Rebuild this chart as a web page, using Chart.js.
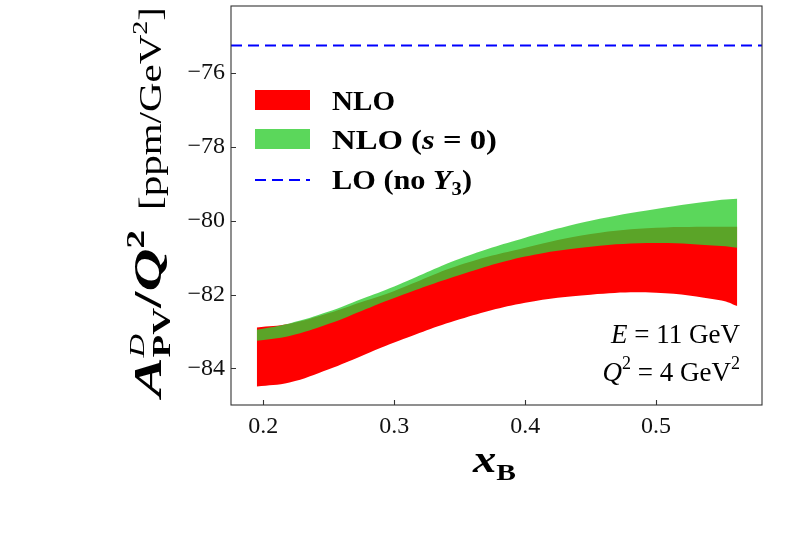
<!DOCTYPE html>
<html>
<head>
<meta charset="utf-8">
<script src="https://cdn.jsdelivr.net/npm/chart.js"></script>
<style>
  body { margin: 0; background: #fff; }
  canvas { display: block; }
</style>
</head>
<body>
<canvas id="chart" width="801" height="533"></canvas>
<script>
// x_B grid and band edges
const xB        = [0.195, 0.22, 0.25, 0.275, 0.30, 0.35, 0.40, 0.45, 0.50, 0.55, 0.562];
const nloTop    = [-82.89, -82.79, -82.50, -82.20, -81.90, -81.20, -80.73, -80.36, -80.19, -80.16, -80.16];
const nloBottom = [-84.49, -84.38, -84.02, -83.66, -83.30, -82.67, -82.22, -82.00, -81.95, -82.16, -82.31];
const s0Top     = [-82.95, -82.78, -82.46, -82.12, -81.78, -81.03, -80.46, -80.00, -79.68, -79.43, -79.40];
const s0Bottom  = [-83.25, -83.12, -82.79, -82.44, -82.09, -81.47, -80.97, -80.70, -80.60, -80.68, -80.73];

const xLimits = [0.1753, 0.5809];
const yLimits = [-84.99, -74.18];
const loX = xLimits;
const loY = [-75.25, -75.25];

const xTicks = [0.2, 0.3, 0.4, 0.5];
const yTicks = [-84, -82, -80, -78, -76];

const RED = 'rgb(255,0,0)';
const GREEN = 'rgba(50,205,50,0.8)';
const BLUE = 'rgb(0,0,255)';
const SERIF = '"Liberation Serif", "Times New Roman", serif';

const pts = (xs, ys) => xs.map((x, i) => ({ x: x, y: ys[i] }));

// draw a list of text runs; a run with `stack` starts where the previous one started
function runsWidth(ctx, runs) {
  let w = 0, last = 0;
  runs.forEach(r => {
    ctx.font = r.f;
    const rw = ctx.measureText(r.t).width + (r.gap || 0);
    if (r.stack) { w += Math.max(0, rw - last); last = Math.max(last, rw); }
    else { w += rw; last = rw; }
  });
  return w;
}

function drawRuns(ctx, runs, x, y, target) {
  const natural = runsWidth(ctx, runs);
  const sx = target ? target / natural : 1;
  ctx.save();
  ctx.translate(x, y);
  ctx.scale(sx, 1);
  let cx = 0, start = 0, last = 0;
  runs.forEach(r => {
    ctx.font = r.f;
    const rw = ctx.measureText(r.t).width + (r.gap || 0);
    if (r.stack) {
      ctx.fillText(r.t, start, r.dy || 0);
      cx = start + Math.max(last, rw);
      last = Math.max(last, rw);
    } else {
      start = cx;
      ctx.fillText(r.t, cx, r.dy || 0);
      cx += rw;
      last = rw;
    }
  });
  ctx.restore();
  return natural * sx;
}

const decorations = {
  id: 'decorations',
  afterDraw(chart) {
    const ctx = chart.ctx;
    const a = chart.chartArea;
    const xs = chart.scales.x, ys = chart.scales.y;
    ctx.save();

    // frame
    ctx.strokeStyle = '#333';
    ctx.lineWidth = 1.1;
    ctx.strokeRect(a.left, a.top, a.right - a.left, a.bottom - a.top);

    // inward ticks
    ctx.beginPath();
    xTicks.forEach(v => {
      const px = Math.round(xs.getPixelForValue(v)) + 0.5;
      ctx.moveTo(px, a.bottom); ctx.lineTo(px, a.bottom - 5);
    });
    yTicks.forEach(v => {
      const py = Math.round(ys.getPixelForValue(v)) + 0.5;
      ctx.moveTo(a.left, py); ctx.lineTo(a.left + 5, py);
    });
    ctx.stroke();

    ctx.fillStyle = '#000';
    ctx.textAlign = 'left';
    ctx.textBaseline = 'alphabetic';

    // y axis title, rotated
    ctx.save();
    ctx.translate(161, 0);
    ctx.rotate(-Math.PI / 2);
    drawRuns(ctx, [
      { t: 'A', f: 'bold italic 40px ' + SERIF },
      { t: 'D', f: 'italic 22px ' + SERIF, dy: -17 },
      { t: 'PV', f: 'bold 25px ' + SERIF, dy: 9, stack: true },
      { t: '/', f: 'bold 40px ' + SERIF },
      { t: 'Q', f: 'bold italic 40px ' + SERIF },
      { t: '2', f: 'bold 25px ' + SERIF, dy: -17 }
    ], -397, 0, 167);
    drawRuns(ctx, [
      { t: '[ppm/GeV', f: '32px ' + SERIF },
      { t: '2', f: '22px ' + SERIF, dy: -14 },
      { t: ']', f: '32px ' + SERIF }
    ], -210, 0, 203);
    ctx.restore();

    // x axis title
    drawRuns(ctx, [
      { t: 'x', f: 'bold italic 38px ' + SERIF },
      { t: 'B', f: 'bold 24px ' + SERIF, dy: 8 }
    ], 473, 472, 43);

    // legend
    const lx = 255, lw = 55;
    ctx.fillStyle = RED;
    ctx.fillRect(lx, 90, lw, 20);
    ctx.fillStyle = GREEN;
    ctx.fillRect(lx, 129, lw, 20);
    ctx.strokeStyle = BLUE;
    ctx.lineWidth = 2;
    ctx.setLineDash([11, 6]);
    ctx.beginPath();
    ctx.moveTo(lx, 180); ctx.lineTo(lx + lw, 180);
    ctx.stroke();
    ctx.setLineDash([]);

    ctx.fillStyle = '#000';
    const B = 'bold 28px ' + SERIF, BI = 'bold italic 28px ' + SERIF;
    drawRuns(ctx, [{ t: 'NLO', f: B }], 332, 110, 63);
    drawRuns(ctx, [
      { t: 'NLO (', f: B }, { t: 's', f: BI }, { t: ' = 0)', f: B }
    ], 332, 149, 165);
    drawRuns(ctx, [
      { t: 'LO (no ', f: B }, { t: 'Y', f: BI },
      { t: '3', f: 'bold 19px ' + SERIF, dy: 6 }, { t: ')', f: B }
    ], 332, 189, 140);

    // kinematics note
    const R = '27px ' + SERIF, I = 'italic 27px ' + SERIF, S = '18px ' + SERIF;
    const row1 = [{ t: 'E', f: I }, { t: ' = 11 GeV', f: R }];
    const row2 = [{ t: 'Q', f: I }, { t: '2', f: S, dy: -12 }, { t: ' = 4 GeV', f: R }, { t: '2', f: S, dy: -12 }];
    const right = 740;
    drawRuns(ctx, row1, right - runsWidth(ctx, row1), 343);
    drawRuns(ctx, row2, right - runsWidth(ctx, row2), 381);

    ctx.restore();
  }
};

const band = (label, ys, color, fill, order) => ({
  label: label,
  data: pts(xB, ys),
  showLine: true,
  borderColor: 'transparent',
  borderWidth: 0,
  backgroundColor: color,
  pointRadius: 0,
  tension: 0.4,
  fill: fill,
  order: order
});

new Chart(document.getElementById('chart'), {
  type: 'scatter',
  data: {
    datasets: [
      band('NLO upper', nloTop, RED, false, 2),
      band('NLO', nloBottom, RED, '-1', 2),
      band('NLO (s=0) upper', s0Top, GREEN, false, 1),
      band('NLO (s=0)', s0Bottom, GREEN, '-1', 1),
      {
        label: 'LO (no Y3)',
        data: pts(loX, loY),
        showLine: true,
        borderColor: BLUE,
        borderWidth: 2,
        borderDash: [11, 6],
        pointRadius: 0,
        fill: false,
        order: 0
      }
    ]
  },
  options: {
    responsive: false,
    animation: false,
    events: [],
    layout: { padding: { top: 6, right: 39, left: 0, bottom: 0 } },
    plugins: { legend: { display: false }, tooltip: { enabled: false } },
    scales: {
      x: {
        type: 'linear',
        min: xLimits[0],
        max: xLimits[1],
        grid: { display: false, drawTicks: false },
        border: { display: false },
        afterBuildTicks: s => { s.ticks = xTicks.map(v => ({ value: v })); },
        afterFit: s => { s.height = 128; s.paddingLeft = 0; s.paddingRight = 0; },
        ticks: {
          autoSkip: false,
          maxRotation: 0,
          padding: 7,
          color: '#111',
          font: { family: SERIF, size: 24 },
          callback: v => v.toFixed(1)
        }
      },
      y: {
        type: 'linear',
        min: yLimits[0],
        max: yLimits[1],
        grid: { display: false, drawTicks: false },
        border: { display: false },
        afterBuildTicks: s => { s.ticks = yTicks.map(v => ({ value: v })); },
        afterFit: s => { s.width = 231; s.paddingTop = 0; s.paddingBottom = 0; },
        ticks: {
          autoSkip: false,
          padding: 6,
          color: '#111',
          font: { family: SERIF, size: 24 },
          callback: v => (v < 0 ? '\u2212' : '') + Math.abs(v)
        }
      }
    }
  },
  plugins: [decorations]
});
</script>
</body>
</html>
